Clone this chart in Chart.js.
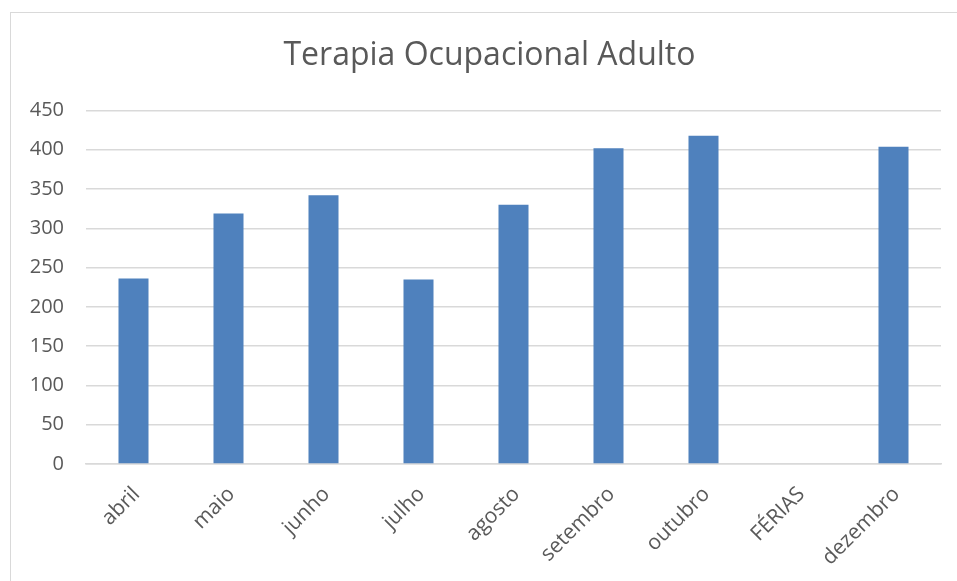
<!DOCTYPE html>
<html>
<head>
<meta charset="utf-8">
<script src="https://cdn.jsdelivr.net/npm/chart.js@4.4.0/dist/chart.umd.min.js"></script>
<style>
  html, body { margin: 0; padding: 0; background: #fff; }
  #frame {
    position: absolute; left: 10px; top: 12px;
    width: 980px; height: 600px;
    border: 1.5px solid #d9d9d9;
  }
  #wrap { position: absolute; left: 0; top: 0; width: 957px; height: 581px; }
</style>
</head>
<body>
<div id="frame"></div>
<div id="wrap"><canvas id="chartBar"></canvas></div>
<script>
const chartTitle = 'Terapia Ocupacional Adulto';
const months = ['abril', 'maio', 'junho', 'julho', 'agosto', 'setembro', 'outubro', 'FÉRIAS', 'dezembro'];
const values = [236, 319, 342, 235, 330, 402, 418, null, 404];
const yTicks = [0, 50, 100, 150, 200, 250, 300, 350, 400, 450];

const textColor = '#595959';
const gridColor = '#d9d9d9';

// title is centred on the chart frame, not on the plot, so draw it here
const frameTitle = {
  id: 'frameTitle',
  afterDraw: (chart) => {
    const ctx = chart.ctx;
    ctx.save();
    ctx.font = 'normal 32px "Open Sans"';
    ctx.fillStyle = textColor;
    ctx.textAlign = 'center';
    ctx.textBaseline = 'middle';
    ctx.fillText(chartTitle, 489.5, 56);
    ctx.restore();
  }
};

const dataBarChart = {
  labels: months,
  datasets: [
    {
      label: chartTitle,
      backgroundColor: '#4f81bd',
      borderWidth: 0,
      data: values,
      categoryPercentage: 1,
      barPercentage: 0.316
    }
  ]
};

const configBarChart = {
  type: 'bar',
  data: dataBarChart,
  plugins: [frameTitle],
  options: {
    responsive: true,
    maintainAspectRatio: false,
    animation: false,
    layout: { padding: { left: 0, right: 16, top: 110.5, bottom: 0 } },
    plugins: {
      legend: { display: false },
      tooltip: { enabled: false },
      title: { display: false }
    },
    scales: {
      x: {
        grid: { display: false, drawTicks: false },
        border: { display: true, color: gridColor, width: 1.5 },
        ticks: {
          color: textColor,
          font: { family: 'Open Sans', size: 21 },
          minRotation: 45,
          maxRotation: 45,
          padding: 18,
          labelOffset: 3
        },
        afterFit: (scale) => { scale.height = 117; }
      },
      y: {
        min: 0,
        max: 450,
        afterBuildTicks: (scale) => { scale.ticks = yTicks.map(v => ({ value: v })); },
        grid: { color: gridColor, lineWidth: 1.5, drawTicks: false },
        border: { display: false },
        ticks: {
          color: textColor,
          font: { family: 'Open Sans', size: 20 },
          padding: 22
        },
        afterFit: (scale) => { scale.width = 86; }
      }
    }
  }
};

const chartBar = new Chart(document.getElementById('chartBar'), configBarChart);
</script>
</body>
</html>
